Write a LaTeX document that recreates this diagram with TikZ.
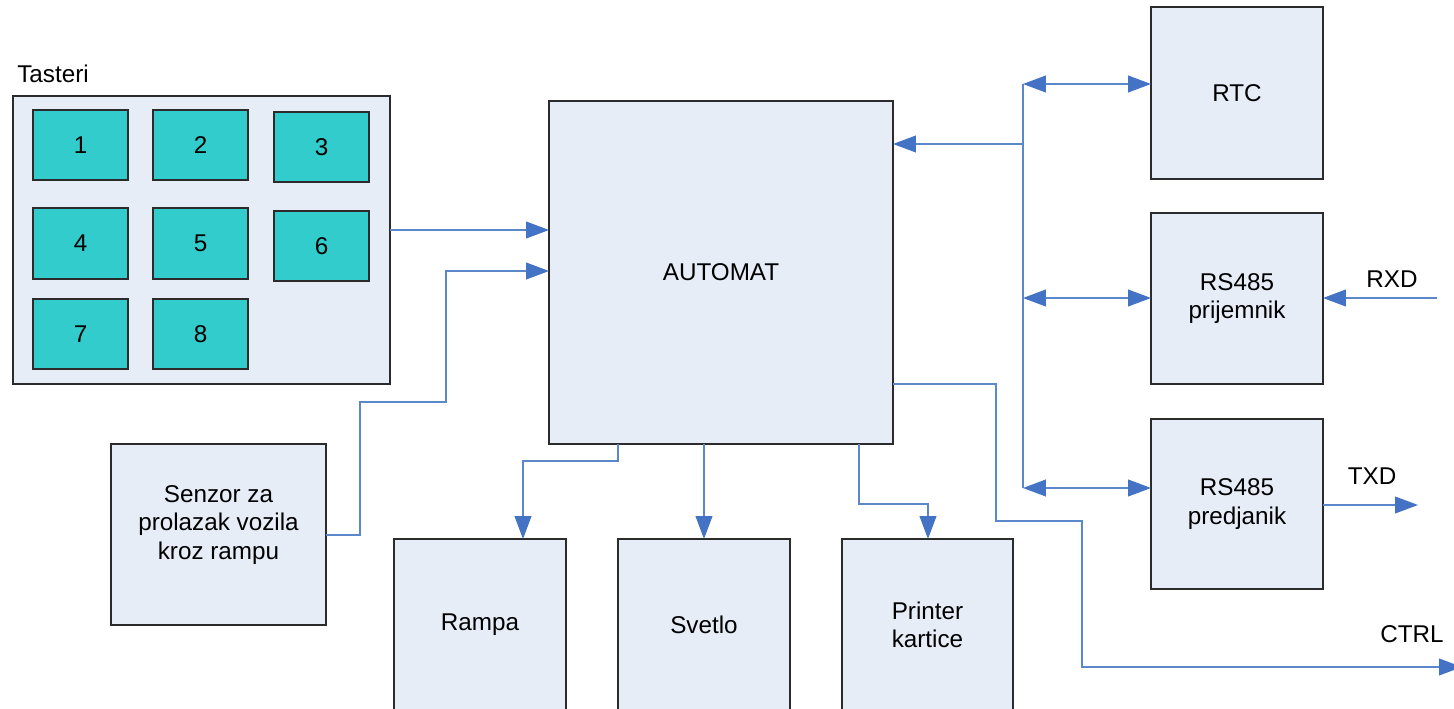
\documentclass[tikz,border=0pt]{standalone}
\usepackage{fontspec}
\setmainfont{Liberation Sans}
\usetikzlibrary{arrows.meta}
\definecolor{boxfill}{HTML}{E6EDF7}
\definecolor{keyfill}{HTML}{33CCCC}
\definecolor{linecol}{HTML}{5B87CB}
\definecolor{headcol}{HTML}{4472C4}
\definecolor{bordercol}{HTML}{2B2B2B}
\tikzset{
  blk/.style={draw=bordercol, line width=0.85pt, fill=boxfill, inner sep=0pt, outer sep=0pt,
    align=center, font=\fontsize{13.8}{16.3}\selectfont},
  keyb/.style={blk, fill=keyfill},
  lbl/.style={inner sep=0pt, font=\fontsize{13.8}{16.3}\selectfont},
  conn/.style={draw=linecol, line width=0.85pt},
  arr/.style={conn, -{Triangle[length=13pt, width=9.5pt, fill=headcol, color=headcol]}},
  darr/.style={conn, {Triangle[length=13pt, width=9.5pt, fill=headcol, color=headcol]}-{Triangle[length=13pt, width=9.5pt, fill=headcol, color=headcol]}},
}
\begin{document}
\begin{tikzpicture}[x=0.02cm, y=-0.02cm]
\useasboundingbox (0,0) rectangle (1454,709);
% helper coordinates
\coordinate (y84) at (0,84);
\coordinate (y144) at (0,144);
\coordinate (y230) at (0,230);
\coordinate (y271) at (0,271);
\coordinate (y298) at (0,298);
\coordinate (y384) at (0,384);
\coordinate (y488) at (0,488);
\coordinate (y505) at (0,505);
\coordinate (y535) at (0,535);
\coordinate (x523) at (523,0);
\coordinate (x618) at (618,0);
\coordinate (x704) at (704,0);
\coordinate (x859) at (859,0);
\coordinate (x928) at (928,0);
\coordinate (rxin) at (1437,298);
\coordinate (txout) at (1418,505);
\coordinate (ctrlout) at (1462,667);
\coordinate (bustop) at (1023,84);
\coordinate (busbot) at (1023,488);

% Tasteri
\node[lbl, anchor=base west] (tlab) at (17,83) {Tasteri};
\node[blk, minimum width=377*0.02cm, minimum height=288*0.02cm] (tas) at (201.5,240) {};
\node[keyb, minimum width=95*0.02cm, minimum height=70*0.02cm] (k1) at (80.5,145) {1};
\node[keyb, minimum width=95*0.02cm, minimum height=70*0.02cm] (k2) at (200.5,145) {2};
\node[keyb, minimum width=95*0.02cm, minimum height=70*0.02cm] (k3) at (321.5,147) {3};
\node[keyb, minimum width=95*0.02cm, minimum height=71*0.02cm] (k4) at (80.5,243.5) {4};
\node[keyb, minimum width=95*0.02cm, minimum height=71*0.02cm] (k5) at (200.5,243.5) {5};
\node[keyb, minimum width=95*0.02cm, minimum height=70*0.02cm] (k6) at (321.5,246) {6};
\node[keyb, minimum width=95*0.02cm, minimum height=70*0.02cm] (k7) at (80.5,334) {7};
\node[keyb, minimum width=95*0.02cm, minimum height=70*0.02cm] (k8) at (200.5,334) {8};

% main blocks
\node[blk, minimum width=344*0.02cm, minimum height=343*0.02cm] (aut) at (721,272.5) {AUTOMAT};
\node[blk, minimum width=172*0.02cm, minimum height=172*0.02cm] (rtc) at (1237,93) {RTC};
\node[blk, minimum width=172*0.02cm, minimum height=171*0.02cm] (rx) at (1237,298.5) {RS485\\prijemnik};
\node[blk, minimum width=172*0.02cm, minimum height=170*0.02cm] (tx) at (1237,504) {RS485\\predjanik};
\node[blk, minimum width=215*0.02cm, minimum height=181*0.02cm, text depth=14pt] (sen) at (218.5,534.5) {Senzor za\\prolazak vozila\\kroz rampu};
\node[blk, minimum width=172*0.02cm, minimum height=172*0.02cm] (ram) at (480,625) {Rampa};
\node[blk, minimum width=172*0.02cm, minimum height=172*0.02cm] (sve) at (704,625) {Svetlo};
\node[blk, minimum width=171*0.02cm, minimum height=172*0.02cm] (prn) at (927.5,625) {Printer\\kartice};

% labels
\node[lbl] (rxd) at (1392,279) {RXD};
\node[lbl] (txd) at (1372,476) {TXD};
\node[lbl] (ctrl) at (1412,634) {CTRL};

% connectors
\draw[arr] (tas.east |- y230) -- (aut.west |- y230);
\draw[arr] (sen.east |- y535) -- (360,535) -- (360,402) -- (446,402) -- (446,271) -- (aut.west |- y271);
\draw[conn] (bustop) -- (busbot);
\draw[arr] (1023,144) -- (aut.east |- y144);
\draw[darr] (bustop) -- (rtc.west |- y84);
\draw[darr] (1023,298) -- (rx.west |- y298);
\draw[darr] (busbot) -- (tx.west |- y488);
\draw[arr] (rxin) -- (rx.east |- rxin);
\draw[arr] (tx.east |- y505) -- (txout);
\draw[arr] (aut.east |- y384) -- (996,384) -- (996,521) -- (1082,521) -- (1082,667) -- (ctrlout);
\draw[arr] (aut.south -| x618) -- (618,461) -- (523,461) -- (ram.north -| x523);
\draw[arr] (aut.south -| x704) -- (sve.north -| x704);
\draw[arr] (aut.south -| x859) -- (859,504) -- (928,504) -- (prn.north -| x928);
\end{tikzpicture}
\end{document}
